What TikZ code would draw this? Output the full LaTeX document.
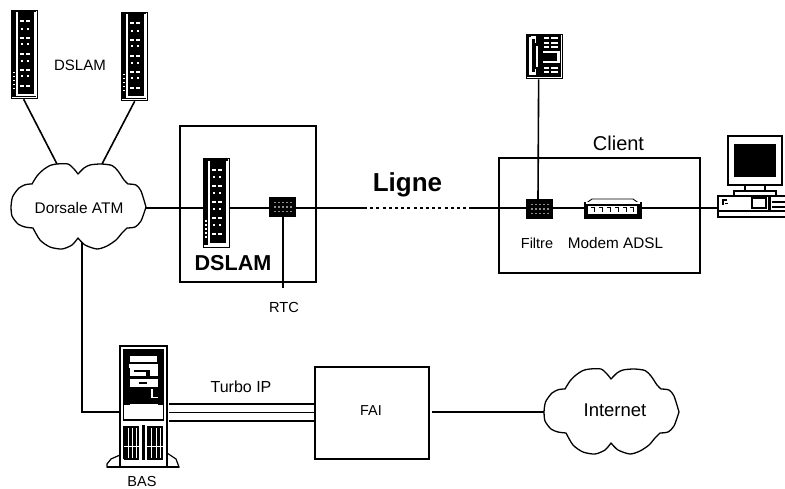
\documentclass[tikz,border=0pt]{standalone}
\usepackage{fontspec}
\setmainfont{Liberation Sans}
\newcommand{\fpx}[1]{\fontsize{#1pt}{#1pt}\selectfont}
\tikzset{
  wire/.style={line width=1.6pt,black},
  boxnode/.style={draw,line width=1.6pt,anchor=north west,inner sep=0pt,fill=white},
  icon/.style={draw,line width=1.3pt,anchor=north west,inner sep=0pt,fill=white},
  lab/.style={inner sep=0pt,text=black},
  wh/.style={fill=white,draw=none},
  bk/.style={fill=black,draw=none}
}
% tower: top-left corner, 26 x 88
\newcommand{\towerart}[1]{%
\begin{scope}[shift={(#1)}]
  \fill[bk] (1,1) rectangle (25,87);
  \fill[wh] (5,2.5) rectangle (7.3,85);
  \fill[wh] (22.5,2.5) rectangle (24.5,86);
  \fill[wh] (5,84.5) rectangle (24.5,86.5);
  \foreach \yy in {10.5,27,43,59,75}{
    \fill[wh] (9,\yy) rectangle (13,\yy+1.8);
    \fill[wh] (15,\yy) rectangle (19,\yy+1.8);
  }
  \foreach \yy in {18,33.5,50,65.5}{
    \fill[wh] (10,\yy) rectangle (12,\yy+2);
    \fill[wh] (15.5,\yy) rectangle (17.5,\yy+2);
  }
  \foreach \yy in {62,66,70,74,78}{
    \fill[wh] (2,\yy) rectangle (4,\yy+1.5);
  }
\end{scope}}
% filter: top-left corner, 27 x 20
\newcommand{\filterart}[1]{%
\begin{scope}[shift={(#1)}]
  \fill[bk] (0,0) rectangle (27,20);
  \foreach \xx in {5,9,13,17,21}{
    \foreach \yy in {5,9.5,14}{
      \fill[white!55!black] (\xx,\yy) rectangle (\xx+1.5,\yy+1.5);
    }
  }
\end{scope}}
% cloud outline
\newcommand{\cloudart}[1]{%
\begin{scope}[shift={(#1)}]
  \draw[line width=1.3pt,fill=white,line join=round]
    plot[smooth,tension=0.45] coordinates {(11,207)(12.5,197)(19,188)(26,184.5)(32,184)}
    -- plot[smooth,tension=0.45] coordinates {(32,184)(37,176)(43,170)(50,165.5)(57,164)(68,164)(74,169)(78,174)}
    -- plot[smooth,tension=0.45] coordinates {(78,174)(84,168)(90,165)(101,164)(112,165.5)(118,171)(124,180)(128,184)}
    -- plot[smooth,tension=0.45] coordinates {(128,184)(136,185)(141,191)(146,207)}
    -- plot[smooth,tension=0.45] coordinates {(146,207)(141,221)(135,227)(127,228)}
    -- plot[smooth,tension=0.45] coordinates {(127,228)(122,233)(116,240)(107,246)(97,249)(85,245)(78,238)}
    -- plot[smooth,tension=0.45] coordinates {(78,238)(72,245)(62,249)(50,247)(40,240)(33,228)}
    -- plot[smooth,tension=0.45] coordinates {(33,228)(25,227)(18,224)(12,216)(11,207)}
    -- cycle;
\end{scope}}
\begin{document}
\begin{tikzpicture}[x=1pt,y=-1pt]
\useasboundingbox (0,0) rectangle (785,489);
\fill[white] (0,0) rectangle (785,489);
\clip (0,0) rectangle (785,489);

% ---- big boxes
\node[boxnode,minimum width=136pt,minimum height=156pt] (dslambox) at (179,125) {};
\node[boxnode,minimum width=201pt,minimum height=115pt] (clientbox) at (498,157) {};
\node[boxnode,minimum width=114pt,minimum height=92pt] (fai) at (314,366) {};

% ---- named icon frames
\node[icon,minimum width=26pt,minimum height=88pt] (tower1) at (11,10) {};
\node[icon,minimum width=26pt,minimum height=88pt] (tower2) at (121,12) {};
\node[icon,minimum width=26pt,minimum height=89pt] (tower3) at (203,158) {};
\node[anchor=north west,inner sep=0pt,minimum width=27pt,minimum height=20pt] (filter1) at (269,197) {};
\node[anchor=north west,inner sep=0pt,minimum width=26pt,minimum height=20pt] (filter2) at (526,199) {};
\node[icon,minimum width=36pt,minimum height=44pt] (phone) at (526,34) {};
\node[anchor=north west,inner sep=0pt,minimum width=58pt,minimum height=19pt] (modem) at (584,200) {};
\node[anchor=north west,inner sep=0pt,minimum width=67pt,minimum height=22pt] (pc) at (718,195.5) {};
\node[anchor=north west,inner sep=0pt,minimum width=47pt,minimum height=121pt] (bas) at (120,346) {};

% ---- connector end points
\coordinate (cloudAeast) at (146,208);
\coordinate (cloudAtopl) at (57,164);
\coordinate (cloudAtopr) at (102,164);
\coordinate (cloudAbot) at (82,242);
\coordinate (cloudBwest) at (544,412);
\coordinate (rtcend) at (282,288);
\coordinate (dashA) at (364,208);
\coordinate (dashB) at (469,208);
\coordinate (faiout) at (432,412);
\coordinate (turboA) at (169,404);
\coordinate (turboB) at (169,412.5);
\coordinate (turboC) at (169,421);
\coordinate (basin) at (82,412);

% ---- connectors
\draw[wire] (tower1.south) ++(-1,0) -- (cloudAtopl);
\draw[wire] (tower2.south) -- (cloudAtopr);
\draw[wire] (cloudAeast) -- (tower3.west |- cloudAeast);
\draw[wire] (tower3.east |- dashA) -- (filter1.west |- dashA);
\draw[wire] (filter1.east |- dashA) -- (dashA);
\draw[wire,dash pattern=on 3pt off 3.2pt] (dashA) -- (dashB);
\draw[wire] (dashB) -- (filter2.west |- dashB);
\draw[wire] (filter1.south) -- (filter1.south |- rtcend);
\draw[wire] (phone.south) ++(-6,0) -- (538,199);
\draw[wire] (filter2.east |- dashB) -- (modem.west |- dashB);
\draw[wire] (modem.east |- dashB) -- (pc.west |- dashB);
\draw[wire] (cloudAbot) -- (basin) -- (bas.west |- basin);
\draw[wire,line width=1.3pt] (turboA) -- (fai.west |- turboA);
\draw[wire,line width=1.3pt] (turboB) -- (fai.west |- turboB);
\draw[wire,line width=1.3pt] (turboC) -- (fai.west |- turboC);
\draw[wire] (faiout) -- (cloudBwest);

% ---- clouds
\cloudart{0,0}
\cloudart{533,205}

% ---- towers and filters
\towerart{11,10}
\towerart{121,12}
\towerart{203,158.5}
\filterart{269,197}
\filterart{526,199}

% ---- phone
\begin{scope}[shift={(526,34)}]
  \fill[bk] (0.6,0.6) rectangle (35.4,43.4);
  \fill[wh] (3,3) rectangle (6,41);
  \fill[wh] (9.5,12) rectangle (12,33);
  \fill[wh] (5,2.5) rectangle (10,9);
  \fill[wh] (5,35) rectangle (10,41);
  \fill[bk] (6,5) rectangle (8.5,38);
  \foreach \yy in {3.5,8,12.5}{
    \fill[wh] (18,\yy) rectangle (23,\yy+2);
    \fill[wh] (25,\yy) rectangle (32,\yy+2);
  }
  \fill[wh] (17,17) rectangle (33,19);
  \fill[wh] (31,17) rectangle (33.5,29);
  \fill[wh] (17,27) rectangle (33.5,29);
  \foreach \yy in {33,37.5}{
    \fill[wh] (18,\yy) rectangle (23,\yy+2);
    \fill[wh] (25,\yy) rectangle (32,\yy+2);
  }
\end{scope}

% ---- modem
\begin{scope}[shift={(584,200)}]
  \draw[line width=0.9pt,fill=white] (1,4) -- (8,-1) -- (49,-1) -- (56,4) -- cycle;
  \fill[bk] (0,2) rectangle (58,19);
  \fill[wh] (2,2.5) rectangle (56,4.5);
  \fill[wh] (4,6) rectangle (53,14);
  \foreach \xx in {7,15,23,31,39,46}{
    \draw[line width=0.9pt] (\xx,7.5) -- (\xx+3,7.5) -- (\xx+3,12.5);
  }
\end{scope}

% ---- computer
\begin{scope}[shift={(718,130)}]
  \draw[line width=1.4pt,fill=white] (10,6) rectangle (64,55);
  \fill[bk] (16,14) rectangle (58,47);
  \draw[line width=1.3pt,fill=white] (27,55) rectangle (47,61);
  \draw[line width=1.3pt,fill=white] (16,61) rectangle (58,66);
  \draw[line width=1.4pt,fill=white] (0,66) rectangle (69,87);
  \fill[bk] (0,80.5) rectangle (69,82.5);
  \fill[bk] (4,69) rectangle (9,71);
  \fill[bk] (4,71) rectangle (5.5,75);
  \fill[bk] (7,73) rectangle (10,74.5);
  \draw[line width=1.1pt] (34,68) rectangle (48,78);
  \fill[bk] (50,66) rectangle (53,82);
  \fill[bk] (54,71) rectangle (69,73);
  \fill[bk] (54,76) rectangle (69,78);
\end{scope}

% ---- BAS server
\begin{scope}[shift={(120,346)}]
  \draw[line width=1.2pt,fill=white] (0,109) -- (-9,113) -- (-13,118) -- (-13,121) -- (0,121) -- cycle;
  \draw[line width=1.2pt,fill=white] (47,107) -- (56,113) -- (59,121) -- (47,121) -- cycle;
  \draw[line width=1.3pt,fill=white] (0,0) rectangle (47,121);
  \draw[line width=1.2pt] (-13,121) -- (59,121);
  \draw[line width=1.3pt] (3.5,4) rectangle (43.5,74);
  \fill[bk] (4,4.5) rectangle (43,18);
  \draw[line width=0.7pt,fill=white] (9.5,9) rectangle (37,16);
  \fill[bk] (4,18) rectangle (9,24);
  \fill[bk] (38,18) rectangle (43,24);
  \fill[bk] (4,22) rectangle (43,59);
  \fill[wh] (9.5,21) rectangle (37.5,30);
  \fill[bk] (14,23.5) rectangle (30,25.5);
  \fill[bk] (26,23.5) rectangle (30,30);
  \fill[wh] (9.5,33) rectangle (37.5,41);
  \fill[bk] (19,36) rectangle (27,38);
  \fill[wh] (21,38) rectangle (25,39);
  \fill[wh] (31,43) rectangle (33,52);
  \fill[wh] (31,50.5) rectangle (37.5,52);
  \fill[wh] (9.5,58) rectangle (37.5,66);
  \draw[line width=1.3pt] (3.5,80) -- (3.5,113);
  \fill[bk] (4,80) rectangle (19,114);
  \fill[bk] (27,80) rectangle (43,114);
  \fill[bk] (22,79) rectangle (24.5,114);
  \foreach \xx in {7.5,12,16}{
    \fill[wh] (\xx,82) rectangle (\xx+1.2,112);
  }
  \foreach \xx in {31,35.5,39.5}{
    \fill[wh] (\xx,82) rectangle (\xx+1.2,112);
  }
  \fill[wh] (4,100) rectangle (19,101.2);
  \fill[wh] (27,100) rectangle (43,101.2);
\end{scope}

% ---- labels
\node[lab] (lbltop) at (80,65) {\fpx{15}DSLAM};
\node[lab] (lbldorsale) at (79,208) {\fpx{15.4}Dorsale ATM};
\node[lab] (lbldslam) at (233,263) {\fpx{21.6}\bfseries DSLAM};
\node[lab] (lblrtc) at (284,307) {\fpx{14.6}RTC};
\node[lab] (lblligne) at (407.5,185) {\fpx{26}\bfseries Ligne};
\node[lab] (lblclient) at (618.5,143) {\fpx{20}Client};
\node[lab] (lblfiltre) at (537,243) {\fpx{14.5}Filtre};
\node[lab] (lblmodem) at (615.5,243) {\fpx{15.3}Modem ADSL};
\node[lab] (lblturbo) at (241,387) {\fpx{16}Turbo IP};
\node[lab] (lblfai) at (371,411) {\fpx{14.4}FAI};
\node[lab] (lblinternet) at (615,410) {\fpx{18.5}Internet};
\node[lab] (lblbas) at (142,481.5) {\fpx{14.5}BAS};
\end{tikzpicture}
\end{document}
